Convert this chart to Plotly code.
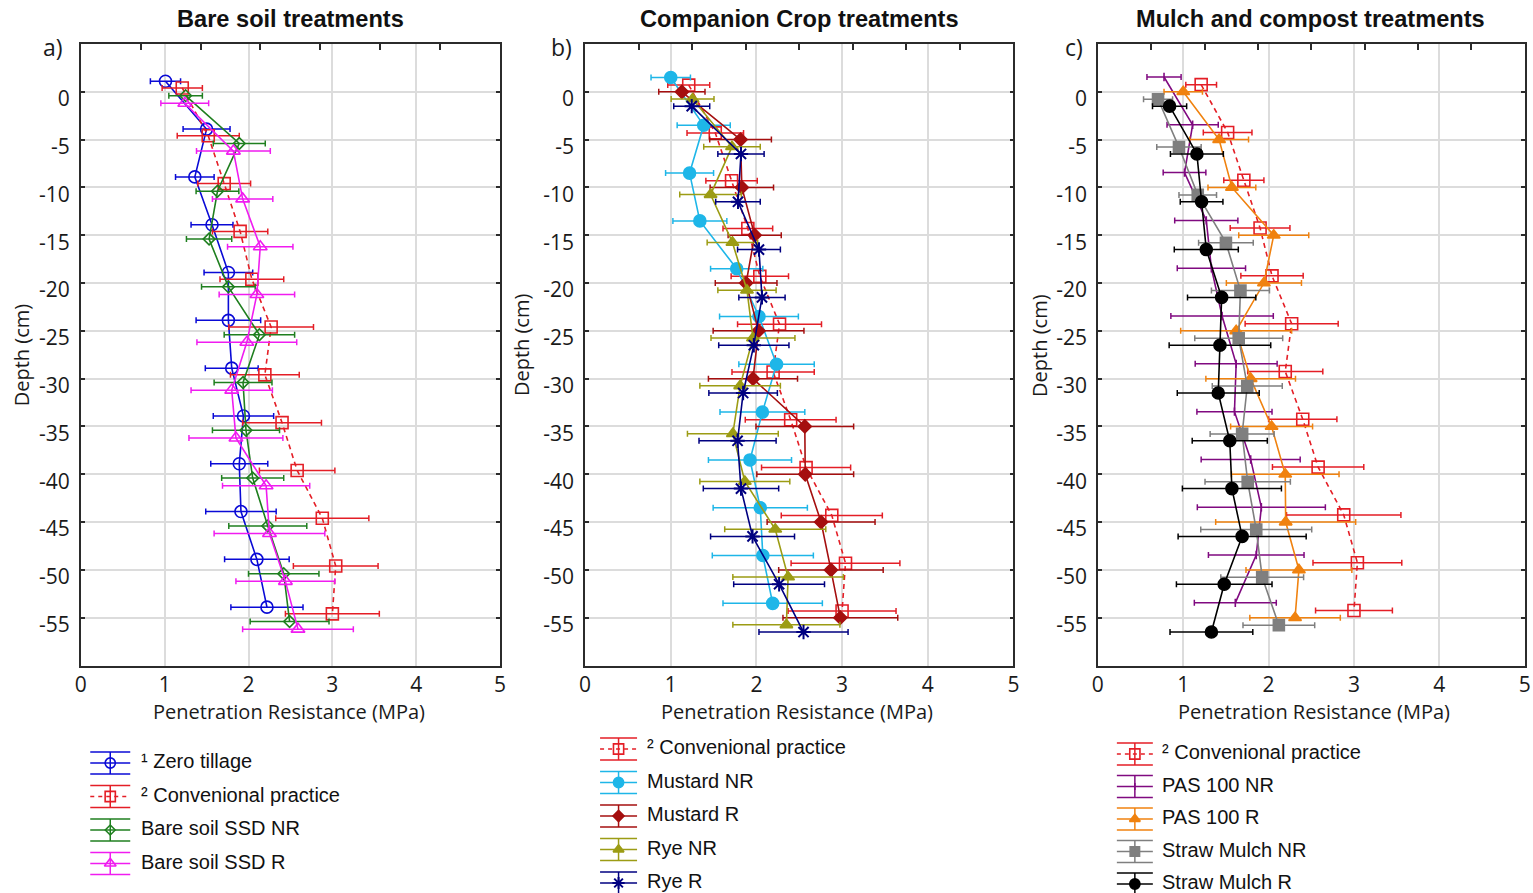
import plotly.graph_objects as go

# ---------------- data ----------------
DEPTH = [0, -5, -10, -15, -20, -25, -30, -35, -40, -45, -50, -55]
Y_TICK_VALS = [0, -5, -10, -15, -20, -25, -30, -35, -40, -45, -50, -55]
Y_TICK_LABELS = ["0", "-5", "-10", "-15", "-20", "-25", "-30", "-35", "-40", "-45", "-50", "-55"]
X_TICK_VALS = [0, 1, 2, 3, 4, 5]
X_TICK_LABELS = ["0", "1", "2", "3", "4", "5"]

CONV = [1.21, 1.52, 1.71, 1.90, 2.04, 2.27, 2.195, 2.40, 2.58, 2.88, 3.04, 3.00]
CONV_ERR_A = [0.24, 0.37, 0.315, 0.33, 0.38, 0.505, 0.41, 0.47, 0.45, 0.555, 0.505, 0.56]
CONV_ERR_B = [0.245, 0.33, 0.30, 0.29, 0.335, 0.49, 0.48, 0.53, 0.52, 0.59, 0.635, 0.63]
CONV_ERR_C = [0.18, 0.285, 0.235, 0.35, 0.365, 0.545, 0.44, 0.40, 0.535, 0.67, 0.52, 0.45]

# a) bare soil
ZT = [1.01, 1.50, 1.36, 1.565, 1.76, 1.76, 1.80, 1.94, 1.89, 1.91, 2.10, 2.22]
ZT_ERR = [0.18, 0.28, 0.23, 0.25, 0.29, 0.385, 0.315, 0.36, 0.34, 0.42, 0.385, 0.43]
BS_NR = [1.25, 1.89, 1.63, 1.53, 1.76, 2.13, 1.935, 1.97, 2.05, 2.23, 2.42, 2.49]
BS_NR_ERR = [0.20, 0.31, 0.255, 0.27, 0.32, 0.42, 0.345, 0.40, 0.37, 0.465, 0.42, 0.47]
BS_R = [1.24, 1.82, 1.93, 2.14, 2.10, 1.98, 1.80, 1.85, 2.21, 2.25, 2.44, 2.59]
BS_R_ERR = [0.285, 0.44, 0.36, 0.39, 0.45, 0.595, 0.485, 0.56, 0.52, 0.66, 0.59, 0.66]

# b) companion crops
MUS_NR = [1.00, 1.385, 1.22, 1.34, 1.77, 2.03, 2.235, 2.07, 1.925, 2.045, 2.075, 2.19]
MUS_NR_ERR = [0.23, 0.31, 0.28, 0.315, 0.305, 0.46, 0.44, 0.495, 0.485, 0.55, 0.59, 0.58]
MUS_R = [1.13, 1.815, 1.83, 1.98, 1.88, 2.025, 1.96, 2.565, 2.57, 2.755, 2.87, 2.98]
MUS_R_ERR = [0.27, 0.36, 0.37, 0.31, 0.36, 0.53, 0.52, 0.57, 0.565, 0.63, 0.61, 0.67]
RYE_NR = [1.255, 1.715, 1.465, 1.72, 1.89, 1.96, 1.81, 1.725, 1.865, 2.22, 2.37, 2.35]
RYE_NR_ERR = [0.25, 0.33, 0.36, 0.295, 0.34, 0.49, 0.47, 0.53, 0.525, 0.59, 0.645, 0.625]
RYE_R = [1.245, 1.82, 1.785, 2.03, 2.065, 1.97, 1.845, 1.78, 1.82, 1.955, 2.265, 2.55]
RYE_R_ERR = [0.21, 0.27, 0.26, 0.25, 0.27, 0.41, 0.40, 0.45, 0.44, 0.49, 0.53, 0.52]

# c) mulch and compost
PAS_NR = [0.775, 1.11, 1.015, 1.27, 1.33, 1.455, 1.62, 1.60, 1.79, 1.915, 1.855, 1.61]
PAS_NR_ERR = [0.20, 0.30, 0.25, 0.37, 0.40, 0.60, 0.48, 0.44, 0.58, 0.75, 0.56, 0.48]
PAS_R = [1.00, 1.42, 1.57, 2.06, 1.945, 1.62, 1.79, 2.035, 2.195, 2.20, 2.355, 2.31]
PAS_R_ERR = [0.225, 0.345, 0.28, 0.41, 0.44, 0.65, 0.525, 0.48, 0.63, 0.82, 0.62, 0.53]
STR_NR = [0.705, 0.95, 1.17, 1.50, 1.67, 1.65, 1.75, 1.69, 1.755, 1.855, 1.925, 2.12]
STR_NR_ERR = [0.17, 0.26, 0.22, 0.32, 0.34, 0.515, 0.41, 0.375, 0.50, 0.65, 0.485, 0.42]
STR_R = [0.84, 1.16, 1.215, 1.27, 1.45, 1.43, 1.41, 1.545, 1.57, 1.69, 1.48, 1.33]
STR_R_ERR = [0.20, 0.31, 0.25, 0.375, 0.40, 0.595, 0.48, 0.44, 0.58, 0.75, 0.56, 0.485]

PANEL_TITLES = ["Bare soil treatments", "Companion Crop treatments", "Mulch and compost treatments"]
PANEL_LETTERS = ["a)", "b)", "c)"]

# ---------------- styling ----------------
W, H = 1533, 893
TICK_FONT = dict(family="Open Sans, Noto Sans, sans-serif", size=21, color="#1a1a1a")
AX_FONT = dict(family="Open Sans, Noto Sans, sans-serif", size=20, color="#1a1a1a")
LEG_FONT = dict(family="Liberation Sans, Arial, sans-serif", size=20, color="#111111")
TITLE_FONT = dict(family="Liberation Sans, Arial, sans-serif", size=23.6, color="#111111")
RED = "#e41e26"
XC, XS = 766.5, 1.0075


def px_x(p):
    return (XC + (p - XC) * XS) / W


def px_y(p):
    return 1 - p / H


X_DOMAINS = [[px_x(80.5), px_x(500)], [px_x(585), px_x(1013.5)], [px_x(1098), px_x(1525)]]
Y_DOMAIN = [px_y(665.5), px_y(44)]
TOP_RANGES = [7, 8, 8]

fig = go.Figure()
legend_items = [[], [], []]


def add_series(panel, xs, errs, name, color, symbol, size, offset, dash="solid", mlw=1.6):
    sfx = "" if panel == 1 else str(panel)
    fig.add_trace(go.Scatter(
        x=xs,
        y=[d + offset for d in DEPTH],
        mode="lines+markers",
        name=name,
        showlegend=False,
        xaxis="x" + sfx,
        yaxis="y" + sfx,
        line=dict(color=color, width=1.6, dash=dash),
        marker=dict(symbol=symbol, size=size, color=color, line=dict(color=color, width=mlw)),
        error_x=dict(type="data", array=errs, visible=True, color=color, thickness=1.5, width=3),
        hoverinfo="x+y+name",
    ))
    legend_items[panel - 1].append((name, color, symbol, size, dash, mlw))


# panel a
add_series(1, ZT, ZT_ERR, "¹ Zero tillage", "#0a0ad6", "circle-open", 12, 1.1)
add_series(1, CONV, CONV_ERR_A, "² Convenional practice", RED, "square-open", 12, 0.4, dash="5px,4px")
add_series(1, BS_NR, BS_NR_ERR, "Bare soil SSD NR", "#1f7f1f", "diamond-open", 9, -0.4)
add_series(1, BS_R, BS_R_ERR, "Bare soil SSD R", "#f01cf0", "triangle-up-open", 12, -1.2)
# panel b
add_series(2, CONV, CONV_ERR_B, "² Convenional practice", RED, "square-open", 12, 0.7, dash="5px,4px")
add_series(2, MUS_NR, MUS_NR_ERR, "Mustard NR", "#1eb6e8", "circle", 12, 1.5)
add_series(2, MUS_R, MUS_R_ERR, "Mustard R", "#a50f0f", "diamond", 10, 0.0)
add_series(2, RYE_NR, RYE_NR_ERR, "Rye NR", "#9c9c14", "triangle-up", 11, -0.75)
add_series(2, RYE_R, RYE_R_ERR, "Rye R", "#000080", "asterisk-open", 12, -1.5, mlw=2)
# panel c
add_series(3, CONV, CONV_ERR_C, "² Convenional practice", RED, "square-open", 12, 0.75, dash="5px,4px")
add_series(3, PAS_NR, PAS_NR_ERR, "PAS 100 NR", "#800a80", "line-ns-open", 6, 1.55)
add_series(3, PAS_R, PAS_R_ERR, "PAS 100 R", "#f0820f", "triangle-up", 11, 0.0)
add_series(3, STR_NR, STR_NR_ERR, "Straw Mulch NR", "#7f7f7f", "square", 11, -0.78)
add_series(3, STR_R, STR_R_ERR, "Straw Mulch R", "#000000", "circle", 12, -1.5)

# invisible traces for the top tick axes
for i in range(3):
    fig.add_trace(go.Scatter(x=[None], y=[None], xaxis=f"x{i + 4}", yaxis="y" if i == 0 else f"y{i + 1}",
                             showlegend=False, hoverinfo="skip"))

layout = dict(
    width=W, height=H, autosize=False,
    paper_bgcolor="white", plot_bgcolor="rgba(0,0,0,0)",
    margin=dict(l=0, r=0, t=0, b=0),
    showlegend=False,
)

for i in range(3):
    sfx = "" if i == 0 else str(i + 1)
    layout["xaxis" + sfx] = dict(
        domain=X_DOMAINS[i], range=[0, 5], anchor="y" + sfx,
        tickmode="array", tickvals=X_TICK_VALS, ticktext=X_TICK_LABELS,
        showgrid=True, gridcolor="#dcdcdc", gridwidth=1.5,
        showline=True, linecolor="#2b2b2b", linewidth=1.5, mirror=True,
        ticks="", tickfont=TICK_FONT, zeroline=False, fixedrange=True,
    )
    layout["yaxis" + sfx] = dict(
        domain=Y_DOMAIN, range=[-60, 5], anchor="x" + sfx,
        tickmode="array", tickvals=Y_TICK_VALS, ticktext=Y_TICK_LABELS,
        showgrid=True, gridcolor="#dcdcdc", gridwidth=1.5,
        showline=True, linecolor="#2b2b2b", linewidth=1.5, mirror="ticks",
        ticks="inside", ticklen=4, tickwidth=1.5, tickcolor="#2b2b2b",
        tickfont=TICK_FONT, zeroline=False, fixedrange=True,
        ticklabelshift=7, ticklabelstandoff=5,
    )
    layout[f"xaxis{i + 4}"] = dict(
        overlaying="x" + sfx, side="top", anchor="y" + sfx,
        range=[0, TOP_RANGES[i]], dtick=1, tick0=0,
        ticks="inside", ticklen=6, tickwidth=1.5, tickcolor="#2b2b2b",
        showticklabels=False, showgrid=False, showline=False, zeroline=False, fixedrange=True,
    )

fig.update_layout(**layout)

# ---------------- custom legends (errorbar-style glyphs) ----------------
LEG_GLYPH_X = [(90, 130), (600, 637), (1117, 1153)]
LEG_TEXT_X = [139, 645, 1160]
LEG_Y0 = [763, 749, 754]
LEG_STEP = [33.5, 33.5, 32.5]
shapes = []
annotations = []
for p in range(3):
    gx0, gx1 = LEG_GLYPH_X[p]
    gxc = (gx0 + gx1) / 2
    for k, (name, color, symbol, size, dash, mlw) in enumerate(legend_items[p]):
        yc = LEG_Y0[p] + k * LEG_STEP[p]
        for dy in (-11, 11):
            shapes.append(dict(type="line", xref="paper", yref="paper",
                               x0=px_x(gx0), x1=px_x(gx1), y0=px_y(yc + dy), y1=px_y(yc + dy),
                               line=dict(color=color, width=1.5)))
        shapes.append(dict(type="line", xref="paper", yref="paper",
                           x0=px_x(gxc), x1=px_x(gxc), y0=px_y(yc - 11), y1=px_y(yc + 11),
                           line=dict(color=color, width=1.5)))
        shapes.append(dict(type="line", xref="paper", yref="paper",
                           x0=px_x(gx0), x1=px_x(gx1), y0=px_y(yc), y1=px_y(yc),
                           line=dict(color=color, width=1.5, dash="4px,4px" if dash != "solid" else "solid")))
        annotations.append(dict(text=name, x=px_x(LEG_TEXT_X[p]), y=px_y(yc - 2),
                                xref="paper", yref="paper", showarrow=False, font=LEG_FONT,
                                xanchor="left", yanchor="middle"))
        fig.add_trace(go.Scatter(
            x=[px_x(gxc)], y=[px_y(yc)], mode="markers", xaxis="x7", yaxis="y7",
            marker=dict(symbol=symbol, size=size * 0.85, color=color, line=dict(color=color, width=mlw)),
            showlegend=False, hoverinfo="skip"))

fig.update_layout(
    xaxis7=dict(domain=[0, 1], range=[0, 1], visible=False, anchor="y7", fixedrange=True),
    yaxis7=dict(domain=[0, 1], range=[0, 1], visible=False, anchor="x7", fixedrange=True),
)

TITLE_X = [290, 800, 1311]
LETTER_X = [53, 561, 1074]
YTITLE_X = [22, 522, 1040]
YTITLE_Y = [355, 345, 345]
XTITLE_X = [289, 797, 1314]
for i in range(3):
    annotations.append(dict(text=f"<b>{PANEL_TITLES[i]}</b>", x=px_x(TITLE_X[i]), y=px_y(19),
                            xref="paper", yref="paper", showarrow=False, font=TITLE_FONT,
                            xanchor="center", yanchor="middle"))
    annotations.append(dict(text=PANEL_LETTERS[i], x=px_x(LETTER_X[i]), y=px_y(47),
                            xref="paper", yref="paper", showarrow=False,
                            font=dict(family="Open Sans, sans-serif", size=23, color="#1a1a1a"),
                            xanchor="center", yanchor="middle"))
    annotations.append(dict(text="Depth (cm)", x=px_x(YTITLE_X[i]), y=px_y(YTITLE_Y[i]),
                            xref="paper", yref="paper", showarrow=False, textangle=-90, font=AX_FONT,
                            xanchor="center", yanchor="middle"))
    annotations.append(dict(text="Penetration Resistance (MPa)", x=px_x(XTITLE_X[i]), y=px_y(711),
                            xref="paper", yref="paper", showarrow=False, font=AX_FONT,
                            xanchor="center", yanchor="middle"))
fig.update_layout(annotations=annotations, shapes=shapes)

fig.write_html("out.html",
               post_script="document.body.style.margin='0px';document.body.style.overflow='hidden';")
